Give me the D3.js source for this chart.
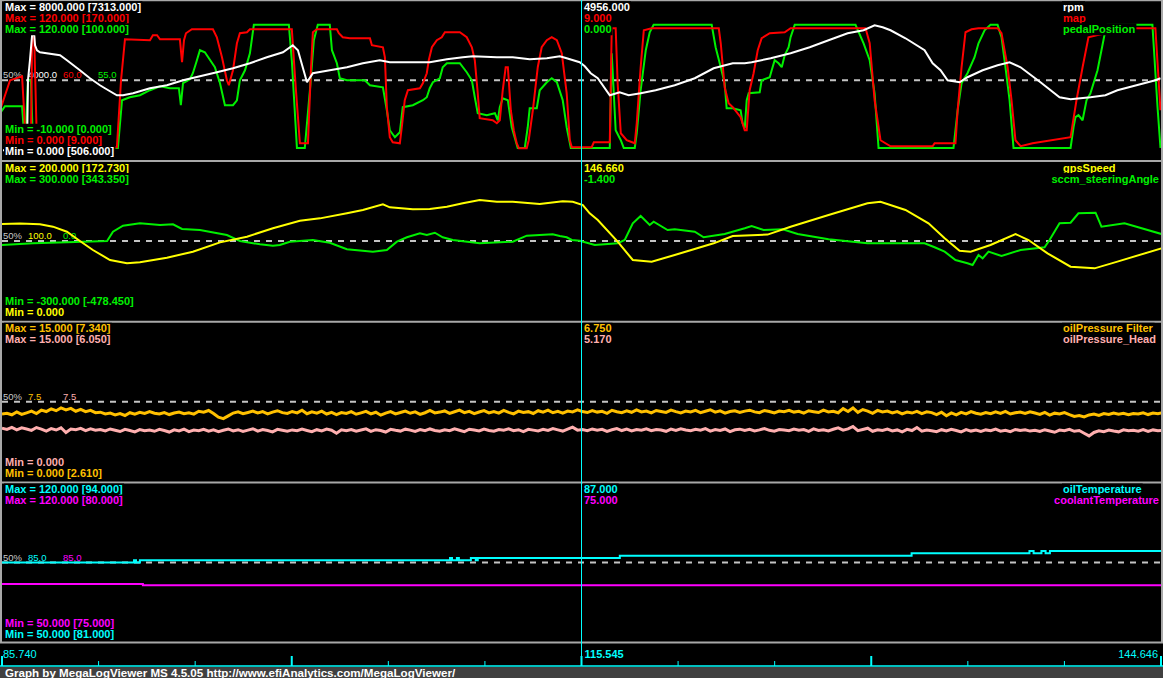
<!DOCTYPE html>
<html><head><meta charset="utf-8">
<script src="https://cdn.jsdelivr.net/npm/d3@7"></script>
<style>
html,body{margin:0;padding:0;background:#000;overflow:hidden}
svg{display:block}
</style></head><body>
<svg id="c" width="1163" height="678"></svg>
<script>
// ---------------- DATA ----------------
const timeRange = [85.740, 144.646];
const cursorTime = 115.545;
const seriesNames = ['rpm','map','pedalPosition','gpsSpeed','sccm_steeringAngle','oilPressure Filter','oilPressure_Head','oilTemperature','coolantTemperature'];
const seriesPanel = [0,0,0,1,1,2,2,3,3];
const axisMax = [8000,120,120,200,300,15,15,120,120];
const axisMin = [0,0,-10,0,-300,0,0,50,50];
const bracketMax = [7313,170,100,172.73,343.35,7.34,6.05,94,80];
const bracketMin = [506,9,0,null,-478.45,2.61,null,81,75];
const cursorValues = [4956,9,0,146.66,-1.4,6.75,5.17,87,75];

const rpmData = [[85.79,506],[87.01,506],[87.06,4000],[87.16,5000],[87.27,6250],[87.37,6350],[87.42,5750],[87.52,5500],[87.67,5400],[88.69,5250],[89.04,5000],[89.70,4500],[90.21,4100],[90.72,3750],[90.97,3600],[91.58,3250],[91.89,3250],[92.40,3350],[93.26,3600],[94.12,3750],[94.94,4000],[95.80,4200],[96.66,4400],[97.48,4600],[98.34,4850],[99.20,5150],[100.02,5400],[100.52,5750],[100.78,5500],[101.24,3900],[101.54,4350],[102.40,4500],[103.27,4650],[104.08,4850],[104.94,5000],[105.45,4900],[106.62,4900],[107.48,4900],[108.35,5050],[109.16,5150],[109.67,5200],[110.89,5150],[111.70,5150],[112.56,5050],[113.43,5100],[114.09,5200],[114.44,5100],[115.10,4900],[115.36,4700],[115.66,4350],[116.02,4100],[116.63,3250],[117.13,3400],[117.59,3250],[118.20,3350],[118.96,3500],[119.93,3750],[120.95,4100],[121.91,4600],[122.88,4850],[123.49,4850],[123.84,4900],[124.81,5100],[125.82,5350],[126.79,5650],[127.75,6000],[128.72,6350],[129.53,6500],[130.09,6750],[130.50,6650],[130.90,6500],[131.66,6100],[132.63,5500],[133.04,4850],[133.44,4500],[133.80,4000],[134.41,3900],[134.81,4150],[135.58,4500],[136.34,4750],[136.95,4900],[137.51,4650],[138.52,3900],[139.49,3150],[140.05,3050],[141.06,3150],[141.82,3250],[142.43,3500],[143.40,3750],[144.36,4000],[144.62,4100]];

const mapData = [[85.64,37.5],[86.15,60],[86.76,63],[86.86,37.5],[86.96,9.75],[87.21,9.75],[87.27,95.25],[87.37,95.25],[87.52,9.75],[91.58,9.75],[91.79,60],[91.99,90.75],[93.26,90],[93.41,93.75],[93.62,93.75],[93.77,90.75],[94.78,90.75],[94.89,73.5],[94.99,90],[95.09,95.25],[95.39,98.25],[96.46,98.25],[96.66,92.25],[96.92,77.25],[97.17,60],[97.27,56.25],[97.48,67.5],[97.68,87.75],[97.83,95.25],[98.19,96],[98.34,98.25],[100.47,98.25],[100.68,52.5],[100.88,12.75],[101.29,12.75],[101.44,67.5],[101.54,96],[101.74,98.25],[102.76,98.25],[102.86,95.25],[103.06,92.25],[103.42,91.5],[104.44,91.5],[104.54,86.25],[105.10,84.75],[105.20,77.25],[105.30,39.75],[105.45,17.25],[105.60,13.5],[105.96,12.75],[106.06,24.75],[106.21,45],[106.37,52.5],[106.98,54],[107.13,57.75],[107.33,65.25],[107.43,75],[107.59,84.75],[107.84,90],[108.09,92.25],[108.25,96],[109.01,96],[109.36,92.25],[109.62,84.75],[109.77,75],[109.92,50.25],[110.02,31.5],[110.68,30],[110.89,27.75],[111.04,30],[111.19,52.5],[111.34,69.75],[111.45,69.75],[111.60,37.5],[111.75,22.5],[111.90,12.75],[112.01,9],[112.41,9],[112.51,15],[112.72,37.5],[112.97,69.75],[113.17,84.75],[113.43,90],[113.68,92.25],[113.94,90],[114.19,80.25],[114.44,50.25],[114.60,15],[114.70,9.75],[115.71,9.75],[115.82,13.5],[116.63,13.5],[116.73,99],[116.93,99],[117.03,57.75],[117.19,20.25],[117.49,15],[117.90,12.75],[118.00,27.75],[118.20,69.75],[118.36,97.5],[118.76,99],[122.17,99],[122.27,87.75],[122.47,54.75],[122.67,42.75],[122.88,39.75],[123.28,32.25],[123.49,22.5],[123.59,22.5],[123.74,52.5],[123.94,65.25],[124.15,82.5],[124.35,91.5],[124.76,95.25],[125.52,96],[125.82,99],[129.63,99],[129.84,87.75],[130.09,45],[130.39,15],[130.90,10.5],[133.04,10.5],[133.14,12.75],[134.20,12.75],[134.31,37.5],[134.51,69.75],[134.71,96],[135.02,98.25],[135.37,99],[136.34,99],[136.54,95.25],[136.85,69.75],[137.05,45],[137.25,15],[137.51,10.5],[138.12,12.75],[140.05,17.25],[140.35,45],[140.66,69.75],[140.96,92.25],[141.37,93.75],[143.00,99],[144.36,99],[144.62,37.5]];

const pedalData = [[85.64,28.2],[85.89,33.9],[86.76,33.9],[86.91,0],[87.06,55],[87.21,55],[87.32,0],[91.63,0],[91.84,38.75],[92.24,41.2],[92.75,42.8],[93.26,46.9],[93.77,50.1],[94.28,48.5],[94.73,48.5],[94.83,34.7],[94.94,52.6],[95.29,55.8],[95.44,60.7],[95.60,68.8],[95.80,79.4],[96.05,77.75],[96.56,65.6],[96.82,52.6],[97.07,34.7],[97.48,34.7],[97.68,38.75],[97.83,55],[98.09,63.1],[98.34,76.9],[98.54,100],[100.32,100],[100.47,71],[100.73,0],[101.13,0],[101.39,47],[101.59,87.5],[101.79,100],[102.40,100],[102.51,79.4],[102.76,68.8],[102.91,56.6],[103.27,55],[104.18,55],[104.44,50.9],[105.10,49.3],[105.30,30.6],[105.45,14.4],[105.71,8.7],[105.96,12.75],[106.11,33.1],[106.62,34.7],[107.13,38.75],[107.33,41.2],[107.48,48.5],[107.64,53.4],[107.99,56.6],[108.14,65.6],[108.35,68.8],[109.01,68.8],[109.36,61.5],[109.62,55],[109.77,41.2],[109.92,28.2],[110.38,26.6],[110.79,28.2],[110.94,22.5],[111.04,33.1],[111.19,40.4],[111.45,38.75],[111.65,16.8],[111.95,0],[112.31,0],[112.46,16.8],[112.56,32.25],[112.92,32.25],[113.07,46.9],[113.43,53.4],[113.68,56.6],[113.94,53.4],[114.24,38.75],[114.44,16.8],[114.65,0],[116.63,0],[116.73,76.9],[116.93,14.4],[117.19,6.25],[117.34,0],[117.90,0],[118.00,11.9],[118.20,46.9],[118.46,79.4],[118.66,94],[118.86,100],[121.81,100],[122.01,81.8],[122.27,65.6],[122.47,52.6],[122.57,32.25],[122.88,32.25],[123.28,30.6],[123.38,20.06],[123.49,16],[123.59,38.75],[123.69,44.4],[124.25,45.25],[124.35,55],[124.76,57.4],[124.86,63.1],[125.01,71.25],[125.21,68.8],[125.37,65.6],[125.52,75.3],[125.72,81.8],[125.82,90],[126.03,100],[129.12,100],[129.53,85],[129.84,71.25],[130.09,44.4],[130.29,0],[134.10,0],[134.31,30.6],[134.51,52.6],[134.81,60.7],[135.17,73.7],[135.37,85],[135.68,95.6],[135.98,100],[136.34,100],[136.54,90],[136.74,65.6],[136.95,38.75],[137.15,0],[140.05,0],[140.20,16.8],[140.30,25],[140.45,26.6],[140.66,22.5],[140.86,38.75],[141.06,44.4],[141.42,63.1],[141.62,79.4],[141.82,95.6],[141.93,100],[144.21,100],[144.47,33.1],[144.62,0]];

const gpsData = [[85.64,121.25],[86.66,122],[87.67,121],[88.33,117.9],[89.04,111.6],[89.70,100],[90.36,88.75],[91.23,76.25],[92.09,72.1],[92.75,73.3],[94.12,79.1],[95.44,86.6],[96.82,98.3],[98.19,105.4],[99.51,115.9],[100.88,125.4],[101.90,128.3],[103.27,134.6],[104.08,138.75],[105.10,145.8],[105.45,142.1],[106.62,139.6],[107.48,140],[108.35,142.9],[109.16,147.1],[110.02,151.25],[110.89,149.1],[111.70,149],[113.07,146.25],[114.24,149.6],[114.75,149],[115.26,145],[115.61,134.6],[116.02,126.25],[117.03,99.2],[117.80,76.25],[118.76,74.2],[119.93,82.5],[121.91,97.1],[122.88,106.25],[124.65,108],[125.82,117.9],[127.75,132.5],[129.73,147.1],[130.39,149.1],[131.66,138.75],[132.83,122.1],[133.65,103.4],[134.41,87.9],[134.97,86.6],[135.98,95],[137.25,108.75],[137.91,101.25],[138.88,84.6],[140.05,67.9],[141.27,65.8],[142.43,74.2],[144.67,90.9]];

const steeringData = [[85.64,-15],[87.32,-8.6],[89.04,-4.9],[91.08,0],[91.38,34.9],[91.89,57.4],[92.75,66.4],[93.77,60],[94.43,62.6],[94.89,45],[95.80,41.25],[97.17,22.5],[97.83,0],[98.85,-12.4],[99.51,-17.6],[99.86,-15],[100.37,-2.6],[101.54,3.75],[102.40,-6.4],[103.27,-31],[104.59,-40],[105.30,-33.75],[105.81,-2.6],[106.32,13.9],[106.98,28.9],[107.33,22.5],[107.74,31.1],[108.14,13.9],[108.65,3.75],[110.02,-8.6],[111.70,-2.6],[112.41,19.9],[113.73,25.1],[114.09,18.75],[114.44,13.9],[114.70,3.75],[115.10,1.1],[115.87,-15],[117.03,-8.6],[117.39,3.75],[117.80,66.4],[118.20,93.75],[118.66,60],[118.86,72.4],[119.57,41.25],[119.93,43.75],[120.95,34.9],[121.40,13.9],[122.47,26.25],[123.49,47.6],[123.84,56.25],[124.45,41.25],[125.42,43.75],[126.18,26.25],[127.75,6.4],[129.73,-8.6],[132.63,-8.6],[133.14,-23.6],[133.65,-40],[134.20,-71.25],[134.81,-83.6],[135.07,-90],[135.37,-52.5],[135.58,-65],[135.88,-40],[136.54,-56.25],[137.51,-33.75],[138.73,-23.6],[138.98,3.75],[139.49,66.4],[140.05,68.6],[140.45,103.9],[141.32,106.25],[141.62,53.6],[142.79,66.4],[143.40,53.6],[144.67,26.25]];

const oilSampleStart = 85.74;
const oilSampleStep = 0.25;
const oilFilterValues = [
6.35,6.42,6.28,6.55,6.31,6.46,6.62,6.40,6.71,6.58,
6.83,6.66,6.92,6.74,6.88,6.61,6.79,6.57,6.69,6.48,
6.52,6.36,6.44,6.27,6.39,6.21,6.47,6.33,6.51,6.40,
6.58,6.43,6.36,6.49,6.30,6.45,6.54,6.38,6.47,6.34,
6.61,6.52,6.68,6.40,6.05,5.92,6.18,6.44,6.56,6.39,
6.50,6.62,6.45,6.57,6.37,6.53,6.66,6.48,6.41,6.59,
6.46,6.71,6.38,6.55,6.43,6.62,6.35,6.50,6.29,6.48,
6.40,6.57,6.33,6.46,6.60,6.37,6.52,6.24,6.44,6.58,
6.36,6.49,6.63,6.42,6.55,6.31,6.47,6.68,6.45,6.53,
6.64,6.41,6.56,6.72,6.48,6.60,6.38,6.54,6.67,6.46,
6.58,6.43,6.69,6.51,6.36,6.62,6.49,6.57,6.40,6.66,
6.52,6.71,6.47,6.60,6.44,6.63,6.55,6.75,6.58,6.49,
6.67,6.53,6.61,6.42,6.70,6.56,6.48,6.64,6.51,6.73,
6.55,6.62,6.45,6.68,6.59,6.50,6.71,6.57,6.46,6.63,
6.54,6.69,6.48,6.61,6.75,6.52,6.64,6.43,6.58,6.66,
6.50,6.62,6.71,6.55,6.47,6.68,6.59,6.45,6.63,6.56,
6.70,6.53,6.60,6.44,6.66,6.57,6.49,6.72,6.54,6.61,
6.47,6.85,6.58,6.92,6.50,6.77,6.63,6.41,6.69,6.55,
6.62,6.46,6.58,6.37,6.53,6.44,6.60,6.39,6.55,6.48,
6.30,6.52,6.18,6.45,6.27,6.50,6.36,6.58,6.42,6.34,
6.49,6.38,6.55,6.41,6.60,6.35,6.47,6.53,6.40,6.56,
6.44,6.31,6.50,6.25,6.43,6.36,6.48,6.29,6.12,6.20,
6.08,6.26,6.34,6.21,6.39,6.30,6.45,6.33,6.41,6.28,
6.40,6.35,6.47,6.30,6.44,6.37,6.50];
const oilHeadValues = [
5.02,4.91,5.10,4.86,5.05,4.95,4.82,5.08,4.93,4.74,
4.98,4.85,5.06,4.62,4.94,4.88,5.01,4.79,4.96,4.84,
4.90,4.77,4.95,4.83,4.71,4.92,4.80,4.68,4.89,4.78,
4.85,4.73,4.91,4.80,4.66,4.87,4.76,4.93,4.70,4.84,
4.79,4.92,4.74,4.86,4.69,4.83,4.95,4.77,4.88,4.72,
4.84,4.97,4.75,4.89,4.80,4.68,4.91,4.82,4.74,4.86,
4.78,4.93,4.81,4.70,4.88,4.76,4.94,4.83,4.55,4.87,
4.79,4.90,4.74,4.85,4.96,4.72,4.88,4.80,4.66,4.91,
4.82,4.75,4.93,4.84,4.71,4.89,4.78,4.95,4.81,4.73,
4.87,4.79,4.97,4.83,4.70,4.92,4.85,4.76,4.94,4.81,
4.74,4.90,4.83,4.96,4.78,4.88,4.69,4.91,4.84,4.77,
4.92,4.81,4.98,4.86,4.75,4.93,5.12,4.84,4.90,4.79,
4.95,4.83,4.91,4.72,4.87,4.99,4.80,4.93,4.76,4.89,
4.84,4.96,4.78,4.90,4.85,4.73,4.94,4.82,4.97,4.86,
4.79,4.92,4.84,4.98,4.75,4.89,4.81,4.95,4.70,4.87,
4.93,4.80,4.91,4.77,4.86,4.99,4.82,4.74,4.90,4.85,
4.78,4.94,4.83,4.89,4.72,4.96,4.81,4.88,4.76,4.92,
5.05,4.84,4.95,5.18,4.79,4.90,5.02,4.73,4.87,4.81,
4.93,4.77,4.86,4.68,4.91,4.80,5.08,4.74,4.85,4.79,
4.70,4.88,4.76,4.92,4.81,4.67,4.89,4.75,4.84,4.72,
4.86,4.78,4.93,4.74,4.83,4.69,4.90,4.80,4.87,4.75,
4.82,4.71,4.88,4.76,4.64,4.85,4.79,4.91,4.73,4.80,
4.55,4.30,4.62,4.78,4.70,4.84,4.75,4.68,4.87,4.79,
4.83,4.74,4.89,4.71,4.86,4.78,4.82];

const oilTempData = [[85.64,85],[92.45,86],[92.55,85],[92.75,86],[108.51,87],[108.61,86],[108.86,87],[108.96,86],[109.57,87],[109.82,86],[109.92,87],[117.14,88],[131.97,89],[137.96,90],[138.17,89],[138.57,90],[138.78,89],[139.00,90],[144.70,90]];
const coolantData = [[85.64,75.6],[92.90,75],[144.70,75]];

// ---------------- STYLE ----------------
const seriesColors = ['#ffffff','#ff0000','#00f000','#ffff00','#00f000','#ffc000','#ffafaf','#00ffff','#ff00ff'];
const seriesWidth = [2,2,2,2,2,3,3,2,2];
const FONT = '"Liberation Sans", Arial, Helvetica, sans-serif';
const W = 1163, H = 678;
const panelH = 160;
const panelTop = p => 160.75*p + 0.25;

const oilFilterData = oilFilterValues.map((v,i)=>[oilSampleStart + i*oilSampleStep, v]);
const oilHeadData = oilHeadValues.map((v,i)=>[oilSampleStart + i*oilSampleStep, v]);
const seriesData = [rpmData, mapData, pedalData, gpsData, steeringData, oilFilterData, oilHeadData, oilTempData, coolantData];
const seriesStep = [false,false,false,false,false,false,false,true,true];

const loc = d3.formatLocale({decimal:'.', thousands:',', grouping:[3], currency:['',''], minus:'-'});
const f3 = loc.format('.3f'), f1 = loc.format('.1f');

const svg = d3.select('#c');
svg.append('rect').attr('width',W).attr('height',H).attr('fill','#000');
const defs = svg.append('defs');
const x = d3.scaleLinear().domain(timeRange).range([2,1161]);

const panelIdx = d3.range(4);
const panelSeries = panelIdx.map(p => d3.range(seriesNames.length).filter(i => seriesPanel[i] === p));

const plotLayer = svg.append('g');
const borderLayer = svg.append('g');
const labelLayer = svg.append('g');

panelIdx.forEach(p => {
  const top = panelTop(p), mid = top + panelH/2;
  const g = plotLayer.append('g');
  defs.append('clipPath').attr('id','clip'+p).append('rect')
    .attr('x',2).attr('y',top).attr('width',1159).attr('height',panelH);
  g.append('line').attr('x1',2).attr('x2',1161).attr('y1',mid).attr('y2',mid)
    .attr('stroke','#c4c4c4').attr('stroke-width',2).attr('stroke-dasharray','6,6');
  g.append('text').attr('x',3).attr('y',mid-2).attr('fill','#c8c8c8')
    .style('font',`9.5px ${FONT}`).text('50%');
  panelSeries[p].forEach((si,k) => {
    g.append('text').attr('x',28+35*k).attr('y',mid-2).attr('fill',seriesColors[si])
      .style('font',`9.5px ${FONT}`).text(f1((axisMin[si]+axisMax[si])/2));
  });
  const lg = g.append('g').attr('clip-path',`url(#clip${p})`);
  panelSeries[p].slice().reverse().forEach(si => {
    const y = d3.scaleLinear().domain([axisMin[si], axisMax[si]]).range([top+panelH, top]);
    const line = d3.line().x(d=>x(d[0])).y(d=>y(d[1]))
      .curve(seriesStep[si] ? d3.curveStepAfter : d3.curveLinear);
    lg.append('path').datum(seriesData[si]).attr('d',line)
      .attr('fill','none').attr('stroke',seriesColors[si]).attr('stroke-width',seriesWidth[si])
      .attr('stroke-linejoin','miter').attr('stroke-miterlimit',2);
  });
  borderLayer.append('line').attr('x1',0).attr('x2',W).attr('y1',top).attr('y2',top)
    .attr('stroke','#a8a8a8').attr('stroke-width',2);
});
borderLayer.append('line').attr('x1',0).attr('x2',W).attr('y1',642.5).attr('y2',642.5)
  .attr('stroke','#a8a8a8').attr('stroke-width',2);
borderLayer.append('line').attr('x1',1).attr('x2',1).attr('y1',0).attr('y2',643)
  .attr('stroke','#a8a8a8').attr('stroke-width',2);
borderLayer.append('line').attr('x1',1162).attr('x2',1162).attr('y1',0).attr('y2',643)
  .attr('stroke','#a8a8a8').attr('stroke-width',2);

function boxedText(g, tx, ty, str, color, opt={}) {
  const grp = g.append('g');
  const bg = grp.append('rect').attr('fill','#000');
  const t = grp.append('text').attr('x',tx).attr('y',ty).attr('fill',color)
    .style('font',`bold 11px ${FONT}`).text(str);
  if (opt.fitRight) {
    const w = t.node().getComputedTextLength();
    t.attr('x', Math.min(opt.fitRight[0], opt.fitRight[1] - w));
  }
  const bb = t.node().getBBox();
  bg.attr('x',bb.x-1).attr('y',ty-9.5).attr('width',bb.width+2).attr('height',12);
  return t;
}

panelIdx.forEach(p => {
  const top = panelTop(p);
  const list = panelSeries[p];
  list.forEach((si,k) => {
    const base = top + 10.5 + 11*k;
    boxedText(labelLayer, 5, base,
      `Max = ${f3(axisMax[si])}` + (bracketMax[si]!=null ? ` [${f3(bracketMax[si])}]` : ''), seriesColors[si]);
    boxedText(labelLayer, 584, base, f3(cursorValues[si]), seriesColors[si]);
    boxedText(labelLayer, 1063, base, seriesNames[si], seriesColors[si], {fitRight:[1063,1159]});
  });
  list.forEach((si,k) => {
    const base = top + 155 - 11*k;
    boxedText(labelLayer, 5, base,
      `Min = ${f3(axisMin[si])}` + (bracketMin[si]!=null ? ` [${f3(bracketMin[si])}]` : ''), seriesColors[si]);
  });
});

// x axis
const axisY = 666;
const ticks = d3.range(13).map(k => timeRange[0] + k*(timeRange[1]-timeRange[0])/12);
const ax = svg.append('g');
ticks.forEach((t,k) => {
  const major = k % 3 === 0;
  ax.append('line').attr('x1',x(t)).attr('x2',x(t)).attr('y1',axisY).attr('y2',major?656:661)
    .attr('stroke','#00ffff').attr('stroke-width',major?2:1);
});
ax.append('line').attr('x1',0).attr('x2',W).attr('y1',axisY).attr('y2',axisY)
  .attr('stroke','#00ffff').attr('stroke-width',1.5);
ax.append('text').attr('x',3).attr('y',658).attr('fill','#00ffff')
  .style('font',`11px ${FONT}`).text(f3(timeRange[0]));
ax.append('text').attr('x',1158).attr('y',658).attr('text-anchor','end').attr('fill','#00ffff')
  .style('font',`11px ${FONT}`).text(f3(timeRange[1]));
const cursorX = x((timeRange[0]+timeRange[1])/2);
ax.append('text').attr('x',cursorX+3).attr('y',658).attr('fill','#00ffff')
  .style('font',`bold 11px ${FONT}`).text(f3(cursorTime));

// cursor line
svg.append('line').attr('x1',cursorX).attr('x2',cursorX).attr('y1',0).attr('y2',axisY)
  .attr('stroke','#00ffff').attr('stroke-width',1);

// footer
svg.append('rect').attr('x',0).attr('y',667).attr('width',W).attr('height',11).attr('fill','#404040');
svg.append('text').attr('x',5).attr('y',676.5).attr('fill','#ffffff')
  .style('font',`bold 11.6px ${FONT}`)
  .text('Graph by MegaLogViewer MS 4.5.05 http://www.efiAnalytics.com/MegaLogViewer/');
</script>
</body></html>
